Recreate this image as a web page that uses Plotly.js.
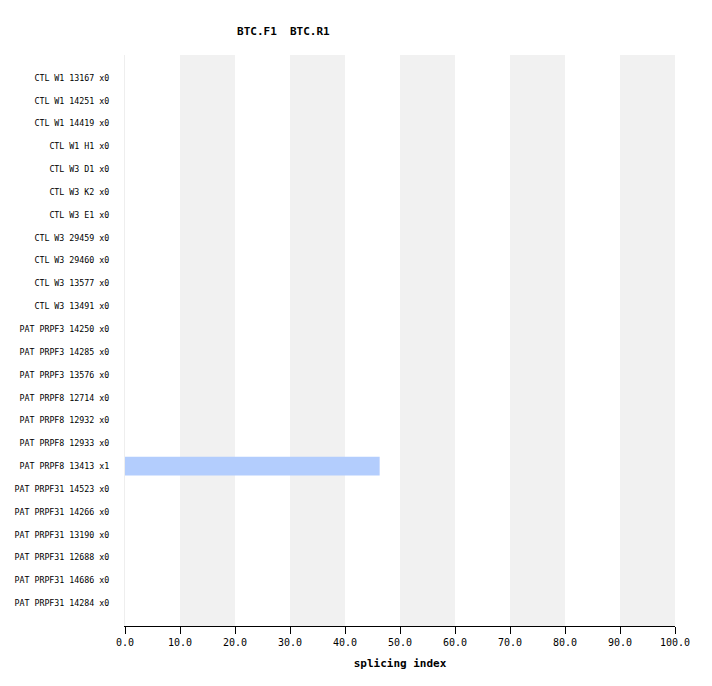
<!DOCTYPE html>
<html><head><meta charset="utf-8">
<script src="https://cdn.plot.ly/plotly-3.0.1.min.js"></script>
<style>body{margin:0;background:#fff}</style>
</head><body>
<div id="chart" style="width:712px;height:686px"></div>
<script>
const categories = ["CTL W1 13167 x0","CTL W1 14251 x0","CTL W1 14419 x0","CTL W1 H1 x0","CTL W3 D1 x0","CTL W3 K2 x0","CTL W3 E1 x0","CTL W3 29459 x0","CTL W3 29460 x0","CTL W3 13577 x0","CTL W3 13491 x0","PAT PRPF3 14250 x0","PAT PRPF3 14285 x0","PAT PRPF3 13576 x0","PAT PRPF8 12714 x0","PAT PRPF8 12932 x0","PAT PRPF8 12933 x0","PAT PRPF8 13413 x1","PAT PRPF31 14523 x0","PAT PRPF31 14266 x0","PAT PRPF31 13190 x0","PAT PRPF31 12688 x0","PAT PRPF31 14686 x0","PAT PRPF31 14284 x0"];
const values = [0,0,0,0,0,0,0,0,0,0,0,0,0,0,0,0,0,46.3,0,0,0,0,0,0];
const xTicks = [0,10,20,30,40,50,60,70,80,90,100];
const xTickLabels = ["0.0","10.0","20.0","30.0","40.0","50.0","60.0","70.0","80.0","90.0","100.0"];
const stripeStarts = [10,30,50,70,90];

const font = "DejaVu Sans Mono, Liberation Mono, monospace";
const n = categories.length;
const shapes = stripeStarts.map(s => ({type:'rect', xref:'x', yref:'paper', x0:s, x1:s+10, y0:0, y1:1, fillcolor:'#f1f1f1', line:{width:0}, layer:'below'}));

Plotly.newPlot('chart', [{
  type:'bar', orientation:'h', y:categories, x:values,
  marker:{color:'#b3cdfd', line:{width:0}}, width:0.83, hoverinfo:'x+y'
}], {
  width:712, height:686,
  margin:{l:125, r:37, t:55, b:60},
  paper_bgcolor:'#fff', plot_bgcolor:'#fff',
  showlegend:false,
  title:{text:'<b>BTC.F1  BTC.R1</b>', x:0.398, xref:'container', xanchor:'center', y:0.955, yref:'container', yanchor:'middle', font:{family:font, size:11, color:'#000'}},
  xaxis:{range:[0,100], tickvals:xTicks, ticktext:xTickLabels, showgrid:false, zeroline:false,
    showline:true, linecolor:'#000', linewidth:1, ticks:'outside', ticklen:7, tickcolor:'#000',
    tickfont:{family:font, size:10, color:'#000'},
    title:{text:'<b>splicing index</b>', font:{family:font, size:11, color:'#000'}, standoff:12}},
  yaxis:{type:'category', range:[n, -1.0], showgrid:false, zeroline:false,
    showline:true, linecolor:'#eeeeee', linewidth:1, ticks:'', ticklen:0, ticklabelstandoff:13,
    tickfont:{family:font, size:8.3, color:'#000'}, automargin:false},
  shapes:shapes,
  bargap:0.17
}, {displayModeBar:false, staticPlot:true});
</script>
</body></html>
